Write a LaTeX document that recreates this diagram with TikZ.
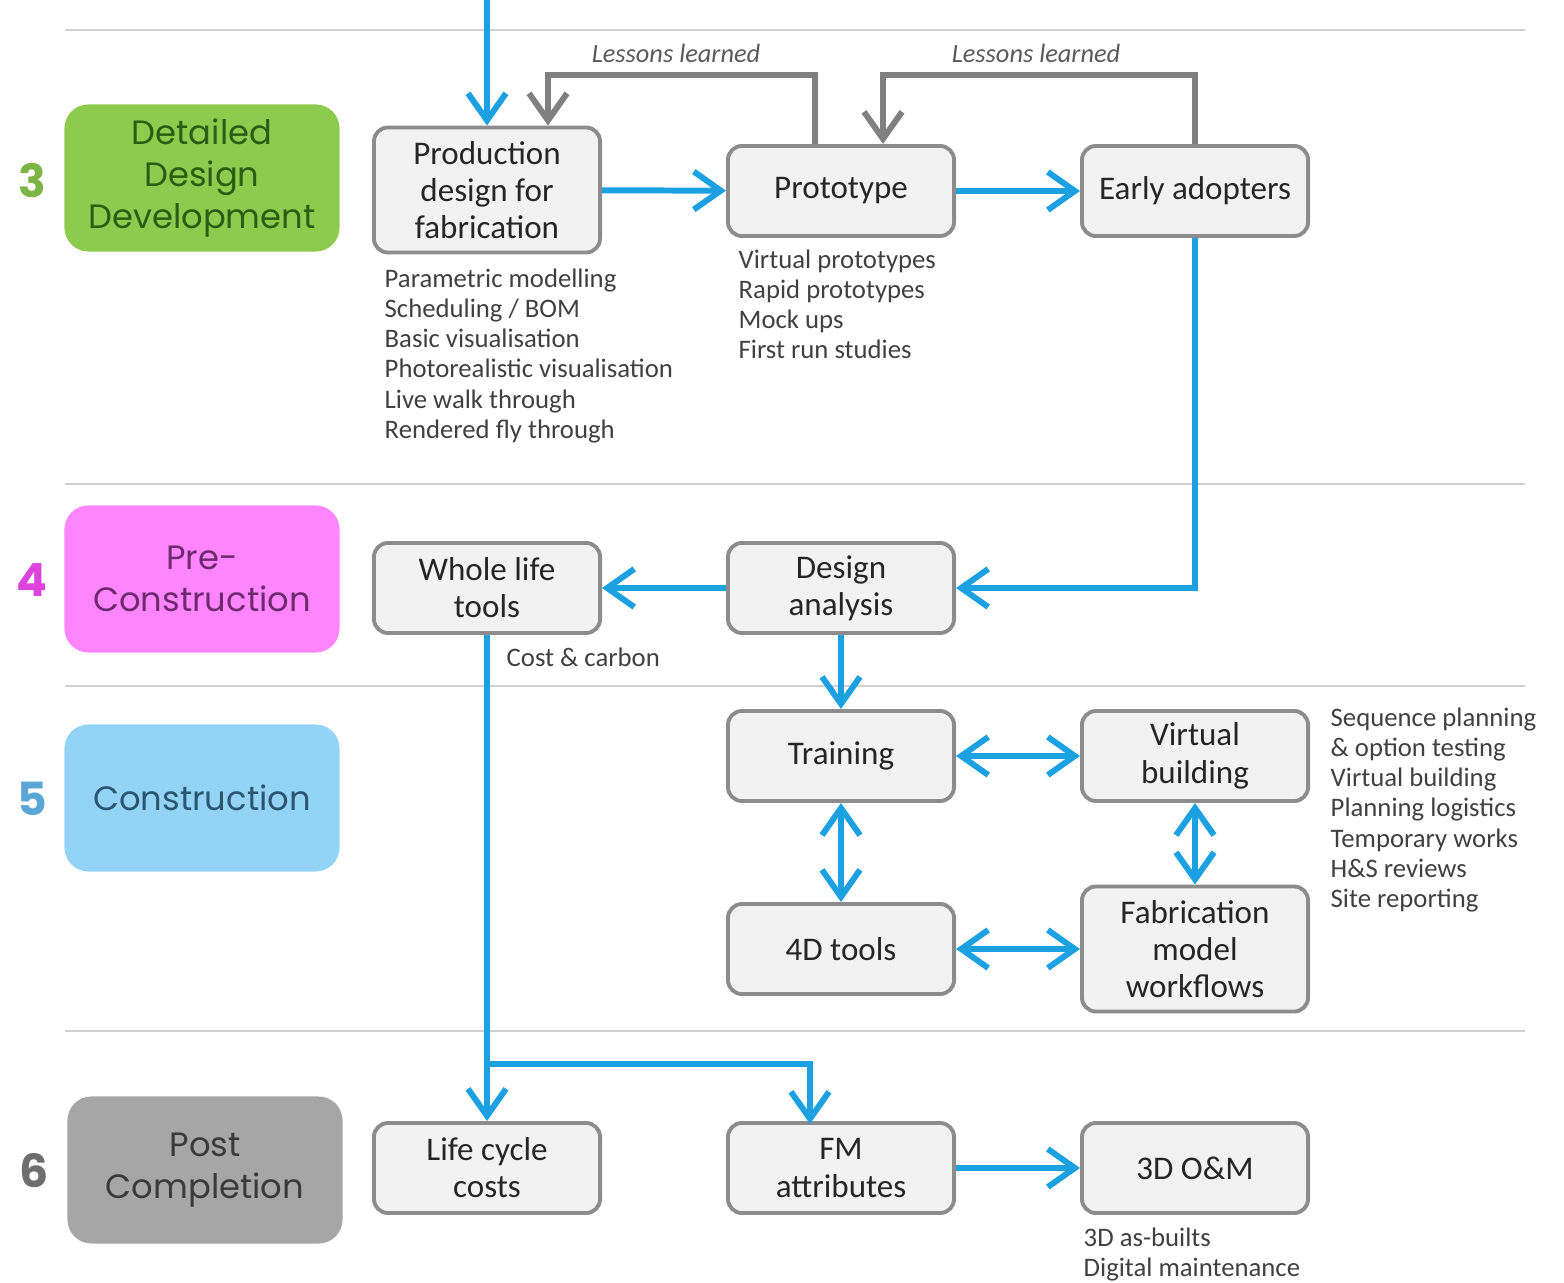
\documentclass[tikz,border=0pt]{standalone}
\usepackage{fontspec}
\setmainfont{Carlito}
\newfontfamily\stagefont{Poppins}
\usetikzlibrary{arrows.meta,positioning}

\definecolor{flowblue}{HTML}{1BA1E2}
\definecolor{loopgray}{HTML}{808080}
\definecolor{boxfill}{HTML}{F2F2F2}
\definecolor{boxline}{HTML}{8C8C8C}
\definecolor{sepline}{HTML}{D0D0D0}
\definecolor{stgreen}{HTML}{8DCB4F}
\definecolor{stpink}{HTML}{FF85FF}
\definecolor{stblue}{HTML}{93D4F6}
\definecolor{stgray}{HTML}{A6A6A6}
\definecolor{txgreen}{HTML}{2A5E12}
\definecolor{txpink}{HTML}{6E2A6E}
\definecolor{txblue}{HTML}{2A5670}
\definecolor{txgray}{HTML}{3A3A3A}
\definecolor{nmgreen}{HTML}{7DB544}
\definecolor{nmpink}{HTML}{DD44DD}
\definecolor{nmblue}{HTML}{5AA6D6}
\definecolor{nmgray}{HTML}{6E6E6E}

\tikzset{
  box/.style={draw=boxline, fill=boxfill, line width=1.1pt, rounded corners=1.4mm,
    minimum width=2.26cm, minimum height=0.9cm, align=center, inner sep=1pt,
    font=\fontsize{9.4}{10.6}\selectfont, text=black!85},
  stage/.style={rounded corners=2.4mm, minimum width=2.75cm, minimum height=1.47cm,
    align=center, font=\stagefont\fontsize{9.6}{12}\selectfont},
  stagenum/.style={font=\stagefont\bfseries\fontsize{13}{13}\selectfont},
  notes/.style={anchor=north west, align=left, inner sep=0pt,
    font=\fontsize{7.6}{8.6}\selectfont, text=black!75},
  lessontext/.style={font=\itshape\fontsize{7.5}{9}\selectfont, text=black!65},
  flow/.style={draw=flowblue, line width=1.7pt, -{Straight Barb[length=2.7mm,width=3.8mm,line width=1.7pt]}},
  flowboth/.style={draw=flowblue, line width=1.7pt, {Straight Barb[length=2.7mm,width=3.8mm,line width=1.7pt]}-{Straight Barb[length=2.7mm,width=3.8mm,line width=1.7pt]}},
  lesson/.style={draw=loopgray, line width=1.7pt, -{Straight Barb[length=2.7mm,width=3.8mm,line width=1.7pt]}},
  sep/.style={draw=sepline, line width=0.7pt}
}

\begin{document}
\begin{tikzpicture}[x=0.01cm, y=-0.01cm]
    \useasboundingbox (0,0) rectangle (1564,1283);

    % separators
    \draw[sep] (65,30) -- (1525,30);
    \draw[sep] (65,484) -- (1525,484);
    \draw[sep] (65,686) -- (1525,686);
    \draw[sep] (65,1031) -- (1525,1031);

    % stages
    \node[stage, fill=stgreen, text=txgreen] (s3) at (202,178) {Detailed\\Design\\Development};
    \node[stage, fill=stpink, text=txpink] (s4) at (202,579) {Pre-\\Construction};
    \node[stage, fill=stblue, text=txblue] (s5) at (202,798) {Construction};
    \node[stage, fill=stgray, text=txgray] (s6) at (205,1170) {Post\\Completion};
    \node[stagenum, text=nmgreen] (n3) at (32,181) {3};
    \node[stagenum, text=nmpink] (n4) at (32,580) {4};
    \node[stagenum, text=nmblue] (n5) at (32,799) {5};
    \node[stagenum, text=nmgray] (n6) at (34,1171) {6};

    % stage 3
    \node[box, minimum height=1.25cm] (prod) at (487,190) {Production\\design for\\fabrication};
    \node[box] (proto) at (841,191) {Prototype};
    \node[box] (early) at (1195,191) {Early adopters};
    \node[notes] (prodnotes) at (384,268) {Parametric modelling\\Scheduling / BOM\\Basic visualisation\\Photorealistic visualisation\\Live walk through\\Rendered fly through};
    \node[notes] (protonotes) at (738,249) {Virtual prototypes\\Rapid prototypes\\Mock ups\\First run studies};

    % stage 4
    \node[box] (whole) at (487,588) {Whole life\\tools};
    \node[box] (design) at (841,588) {Design\\analysis};
    \node[notes] (costnotes) at (506,647) {Cost \& carbon};

    % stage 5
    \node[box] (train) at (841,756) {Training};
    \node[box] (virt) at (1195,756) {Virtual\\building};
    \node[box] (tools) at (841,949) {4D tools};
    \node[box, minimum height=1.25cm] (fab) at (1195,949) {Fabrication\\model\\workflows};
    \node[notes] (virtnotes) at (1330,707) {Sequence planning\\\& option testing\\Virtual building\\Planning logistics\\Temporary works\\H\&S reviews\\Site reporting};

    % stage 6
    \node[box] (life) at (487,1168) {Life cycle\\costs};
    \node[box] (fm) at (841,1168) {FM\\attributes};
    \node[box] (om) at (1195,1168) {3D O\&M};
    \node[notes] (omnotes) at (1083,1227) {3D as-builts\\Digital maintenance};

    % lessons learned loops
    \node[lessontext] (lessA) at (676,53) {Lessons learned};
    \node[lessontext] (lessB) at (1036,53) {Lessons learned};
    \coordinate (loopA) at (548,75);
    \coordinate (loopB) at (883,75);
    \draw[lesson] ([xshift=-2.6mm]proto.north) |- (loopA) -- (loopA |- prod.north);
    \draw[lesson] (early.north) |- (loopB) -- (loopB |- proto.north);

    % flows
    \coordinate (entry) at (487,0);
    \coordinate (split) at (487,1064);
    \coordinate (fmin) at (810,1124);
    \draw[flow] (entry) -- (prod.north);
    \draw[flow] (prod) -- (proto);
    \draw[flow] (proto) -- (early);
    \draw[flow] (early.south) |- (design.east);
    \draw[flow] (design) -- (whole);
    \draw[flow] (design) -- (train);
    \draw[flowboth] (train) -- (virt);
    \draw[flowboth] (train) -- (tools);
    \draw[flowboth] (virt) -- (fab);
    \draw[flowboth] (tools) -- (fab);
    \draw[flow] (whole) -- (life);
    \draw[flow] (split) -| (fmin);
    \draw[flow] (fm) -- (om);
\end{tikzpicture}
\end{document}
